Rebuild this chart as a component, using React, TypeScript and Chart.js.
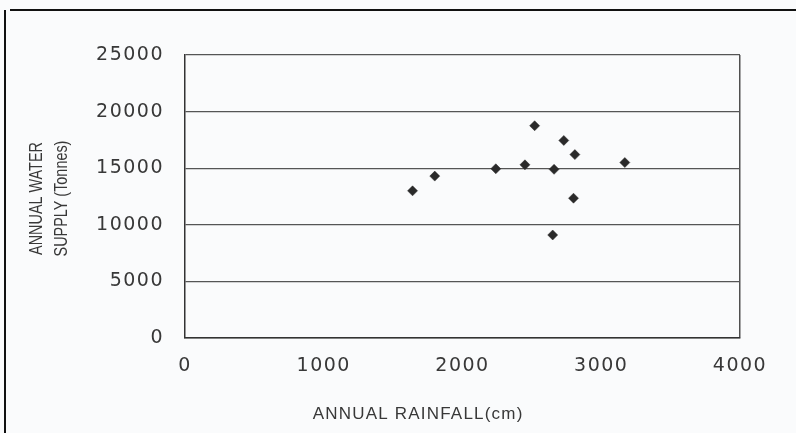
import { useEffect, useRef } from 'react';
import { Chart, registerables } from 'chart.js';

Chart.register(...registerables);

// Data
const RAINFALL = [1640, 1800, 2240, 2450, 2520, 2660, 2730, 2810, 3170, 2800, 2650];
const WATER_SUPPLY = [13000, 14300, 14950, 15300, 18750, 14900, 17450, 16200, 15500, 12350, 9100];
const X_TICKS = [0, 1000, 2000, 3000, 4000];
const Y_TICKS = [0, 5000, 10000, 15000, 20000, 25000];
const X_TITLE = 'ANNUAL RAINFALL(cm)';
const Y_TITLE = ['ANNUAL WATER', 'SUPPLY (Tonnes)'];

const TEXT = '#383838';
const TICK_FONT = "'DejaVu Sans', sans-serif";

const titlesPlugin = {
  id: 'axisTitles',
  beforeDraw(chart: any) {
    chart.ctx.letterSpacing = '1.5px';
  },
  afterDraw(chart: any) {
    const { ctx, chartArea } = chart;
    ctx.save();
    ctx.fillStyle = TEXT;
    ctx.textAlign = 'center';
    ctx.textBaseline = 'middle';
    ctx.letterSpacing = '1.2px';
    ctx.font = "17px 'Liberation Sans', sans-serif";
    ctx.fillText(
      X_TITLE,
      chartArea.left + 0.42 * (chartArea.right - chartArea.left),
      chartArea.bottom + 76
    );
    ctx.letterSpacing = '0px';
    ctx.font = "18px 'Liberation Sans', sans-serif";
    ctx.translate(37, (chartArea.top + chartArea.bottom) / 2 + 2);
    ctx.rotate(-Math.PI / 2);
    ctx.scale(0.8, 1);
    Y_TITLE.forEach((t, i) => ctx.fillText(t, 0, i * 25));
    ctx.restore();
    ctx.letterSpacing = '0px';
  },
};

export default function App() {
  const canvasRef = useRef<HTMLCanvasElement | null>(null);

  useEffect(() => {
    const canvas = canvasRef.current;
    if (!canvas) return;
    const chart = new Chart(canvas, {
      type: 'scatter',
      data: {
        datasets: [
          {
            label: 'Water supply',
            data: RAINFALL.map((x, i) => ({ x, y: WATER_SUPPLY[i] })),
            pointStyle: 'rectRot',
            pointRadius: 5,
            pointHoverRadius: 5,
            backgroundColor: '#2a2a2a',
            borderColor: '#2a2a2a',
            borderWidth: 0.5,
          },
        ],
      },
      options: {
        responsive: false,
        animation: false,
        layout: { padding: { top: 55, right: 56, left: 0, bottom: 0 } },
        plugins: {
          legend: { display: false },
          tooltip: { enabled: false },
        },
        scales: {
          x: {
            type: 'linear',
            min: 0,
            max: 4000,
            afterBuildTicks: (scale: any) => {
              scale.ticks = X_TICKS.map((value) => ({ value }));
            },
            afterFit: (scale: any) => {
              scale.height = 95;
            },
            ticks: {
              padding: 17,
              color: TEXT,
              font: { family: TICK_FONT, size: 19 },
              callback: (v: any) => String(v),
            },
            grid: {
              drawTicks: false,
              lineWidth: 1.5,
              color: (c: any) =>
                c.tick && c.tick.value === 4000 ? '#505050' : 'rgba(0,0,0,0)',
            },
            border: { display: true, color: '#333333', width: 1.5 },
          },
          y: {
            type: 'linear',
            min: 0,
            max: 25000,
            afterBuildTicks: (scale: any) => {
              scale.ticks = Y_TICKS.map((value) => ({ value }));
            },
            afterFit: (scale: any) => {
              scale.width = 185;
            },
            ticks: {
              padding: 21,
              color: TEXT,
              font: { family: TICK_FONT, size: 19 },
              callback: (v: any) => String(v),
            },
            grid: {
              drawTicks: false,
              lineWidth: 1.3,
              color: '#555555',
            },
            border: { display: true, color: '#333333', width: 1.5 },
          },
        },
      },
      plugins: [titlesPlugin],
    });
    return () => chart.destroy();
  }, []);

  return (
    <div
      style={{
        position: 'fixed',
        left: 0,
        top: 0,
        width: 796,
        height: 433,
        background: '#fafbfc',
        overflow: 'hidden',
      }}
    >
      <div
        style={{ position: 'absolute', left: 10, top: 9, width: 786, height: 2, background: '#111' }}
      />
      <div
        style={{ position: 'absolute', left: 4, top: 10, width: 2, height: 423, background: '#111' }}
      />
      <canvas
        ref={canvasRef}
        width={796}
        height={433}
        style={{ position: 'absolute', left: 0, top: 0 }}
      />
    </div>
  );
}
